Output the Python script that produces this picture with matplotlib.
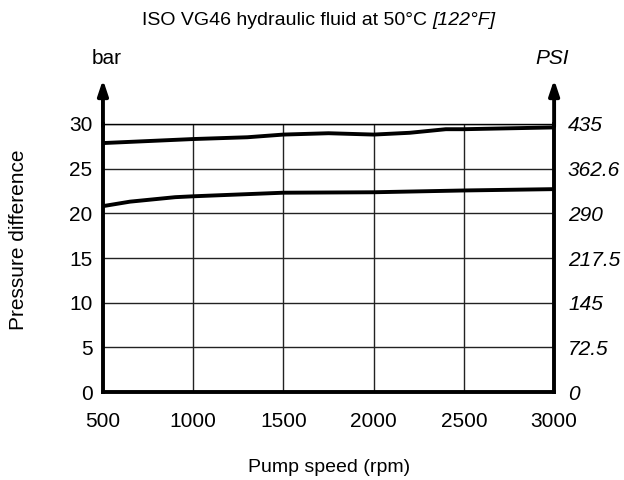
import matplotlib
matplotlib.use("Agg")
import matplotlib.pyplot as plt

plt.rcParams['font.family'] = ['Liberation Sans', 'DejaVu Sans']

speed_upper = [500, 1000, 1300, 1500, 1750, 2000, 2200, 2400, 2500, 3000]
diff_upper = [27.85, 28.3, 28.5, 28.8, 28.95, 28.8, 29.0, 29.4, 29.4, 29.6]
speed_lower = [500, 650, 900, 1000, 1500, 2000, 2500, 3000]
diff_lower = [20.8, 21.3, 21.8, 21.9, 22.3, 22.35, 22.55, 22.7]

x_ticks = [500, 1000, 1500, 2000, 2500, 3000]
bar_ticks = [0, 5, 10, 15, 20, 25, 30]
psi_labels = ["0", "72.5", "145", "217.5", "290", "362.6", "435"]

fig = plt.figure(figsize=(6.24, 4.8), dpi=100)
ax = fig.add_axes([0.165, 0.183, 0.723, 0.559])
ax.set_xlim(500, 3000)
ax.set_ylim(0, 30)

ax.plot(speed_upper, diff_upper, color='black', lw=2.8, solid_capstyle='butt', zorder=3)
ax.plot(speed_lower, diff_lower, color='black', lw=2.8, solid_capstyle='butt', zorder=3)

ax.set_xticks(x_ticks)
ax.set_yticks(bar_ticks)
ax.grid(True, color='#222222', lw=1.0)
ax.tick_params(length=0, labelsize=15)
ax.tick_params(axis='x', pad=14)
ax.tick_params(axis='y', pad=7.5)

for side in ['left', 'right', 'bottom']:
    ax.spines[side].set_linewidth(2.8)
ax.spines['top'].set_linewidth(1.0)

ax2 = ax.twinx()
ax2.set_ylim(0, 30)
ax2.set_yticks(bar_ticks)
ax2.set_yticklabels(psi_labels, fontstyle='italic')
ax2.tick_params(length=0, labelsize=15, pad=10)
for s in ax2.spines.values():
    s.set_visible(False)

for xa in [0, 1]:
    ax.annotate('', xy=(xa, 1.165), xytext=(xa, 0.99), xycoords='axes fraction',
                arrowprops=dict(arrowstyle='-|>,head_length=0.9,head_width=0.3',
                                color='black', lw=2.8, shrinkA=0, shrinkB=0),
                annotation_clip=False)

fig.text(0.171, 0.879, 'bar', fontsize=15, ha='center', va='center')
fig.text(0.884, 0.879, 'PSI', fontsize=15, ha='center', va='center', fontstyle='italic')

# title: normal part + italic part, centered as a whole
t1 = fig.text(0, 0.958, 'ISO VG46 hydraulic fluid at 50°C ', fontsize=14, ha='left', va='center')
t2 = fig.text(0, 0.958, '[122°F]', fontsize=14, ha='left', va='center', fontstyle='italic')
r = fig.canvas.get_renderer()
w1 = t1.get_window_extent(r).width
w2 = t2.get_window_extent(r).width
W = fig.bbox.width
x0 = 0.511 * W - (w1 + w2) / 2
t1.set_x(x0 / W)
t2.set_x((x0 + w1) / W)

fig.text(0.029, 0.5, 'Pressure difference', fontsize=15, rotation=90, ha='center', va='center')
fig.text(0.528, 0.027, 'Pump speed (rpm)', fontsize=14, ha='center', va='center')

fig.savefig('out.png', dpi=100)
